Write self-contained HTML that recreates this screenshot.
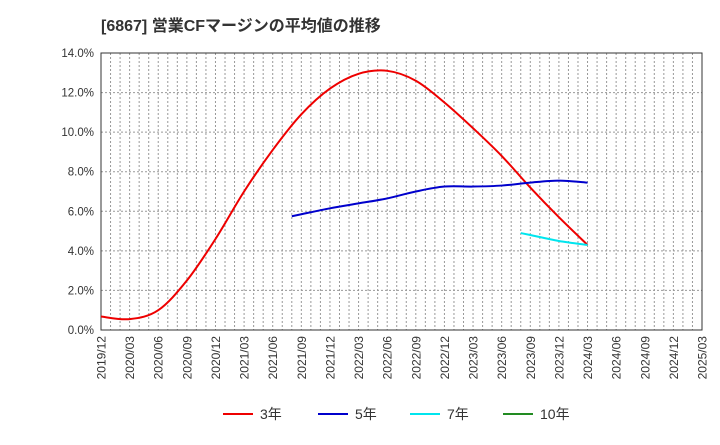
<!DOCTYPE html>
<html><head><meta charset="utf-8"><style>
body{margin:0;background:#fff;width:720px;height:440px;overflow:hidden;font-family:"Liberation Sans","Noto Sans CJK JP",sans-serif}
</style></head><body>
<svg id="c" width="720" height="440" xmlns="http://www.w3.org/2000/svg">
<text x="101" y="31" font-size="16" font-weight="bold" fill="#333" font-family="Liberation Sans, Noto Sans CJK JP, sans-serif">[6867]  営業CFマージンの平均値の推移</text>
<g id="grid"></g><g id="axes"></g><g id="series"></g><g id="legend"></g>
</svg>
<script>
const xLabels=["2019/12","2020/03","2020/06","2020/09","2020/12","2021/03","2021/06","2021/09","2021/12","2022/03","2022/06","2022/09","2022/12","2023/03","2023/06","2023/09","2023/12","2024/03","2024/06","2024/09","2024/12","2025/03"];
const yTicks=[0,2,4,6,8,10,12,14];
const m3=[0,3,6,9,12,15,18,21,24,27,30,33,36,39,42,45,48,51];
const v3=[0.68,0.55,1.0,2.5,4.6,7.0,9.1,10.9,12.2,12.95,13.1,12.6,11.5,10.2,8.8,7.2,5.7,4.3];
const m5=[20,21,24,27,30,33,36,39,42,45,48,51];
const v5=[5.75,5.85,6.15,6.4,6.65,7.0,7.25,7.25,7.3,7.45,7.55,7.45];
const m7=[44,45,48,51];
const v7=[4.9,4.8,4.5,4.3];
const m10=[];const v10=[];
const L=101,R=702,T=53,B=330,NM=63;
const X=m=>L+(R-L)*m/NM, Y=v=>B-(B-T)*v/14;
const NS="http://www.w3.org/2000/svg";
function mk(tag,attrs,parent){const e=document.createElementNS(NS,tag);for(const k in attrs)e.setAttribute(k,attrs[k]);document.getElementById(parent).appendChild(e);return e;}
for(let m=1;m<NM;m++){const l=mk('line',{x1:X(m),x2:X(m),y1:T,y2:B,stroke:'#999','stroke-dasharray':'2,2','stroke-width':1},'grid');

}
yTicks.forEach(t=>{const l=mk('line',{x1:L,x2:R,y1:Y(t),y2:Y(t),stroke:'#999','stroke-dasharray':'2,2','stroke-width':1},'grid');


const tx=mk('text',{x:L-7,y:Y(t)+4,'text-anchor':'end','font-size':11.5,fill:'#333'},'axes');tx.textContent=t.toFixed(1)+'%';

});
const fr=mk('rect',{x:L,y:T,width:R-L,height:B-T,fill:'none',stroke:'#333','stroke-width':1},'axes');


xLabels.forEach((s,i)=>{const x=X(i*3);const tx=mk('text',{transform:`translate(${x+4.5},${B+6}) rotate(-90)`,'text-anchor':'end','font-size':12,fill:'#333'},'axes');tx.textContent=s;

});
function path(ms,vs){const p=ms.map((m,i)=>[X(m),Y(vs[i])]);if(p.length<2)return'';let d=`M${p[0][0]},${p[0][1]}`;
for(let i=0;i<p.length-1;i++){const p0=p[i-1]||p[i],p1=p[i],p2=p[i+1],p3=p[i+2]||p2;
d+=` C${p1[0]+(p2[0]-p0[0])/6},${p1[1]+(p2[1]-p0[1])/6} ${p2[0]-(p3[0]-p1[0])/6},${p2[1]-(p3[1]-p1[1])/6} ${p2[0]},${p2[1]}`;}return d;}
[[m3,v3,'#ee0000','series-3yr'],[m5,v5,'#0000cc','series-5yr'],[m7,v7,'#00e5ee','series-7yr'],[m10,v10,'#228b22','series-10yr']].forEach(s=>{
if(s[0].length<2)return;const p=mk('path',{d:path(s[0],s[1]),fill:'none',stroke:s[2],'stroke-width':2},'series');

});
[['3年','#ee0000',223,'legend-3yr'],['5年','#0000cc',318,'legend-5yr'],['7年','#00e5ee',410,'legend-7yr'],['10年','#228b22',503,'legend-10yr']].forEach(l=>{
const ln=mk('line',{x1:l[2],x2:l[2]+30,y1:414,y2:414,stroke:l[1],'stroke-width':2},'legend');


const t=mk('text',{x:l[2]+37,y:419,'font-size':14,fill:'#333'},'legend');t.textContent=l[0];

});
</script>
</body></html>
